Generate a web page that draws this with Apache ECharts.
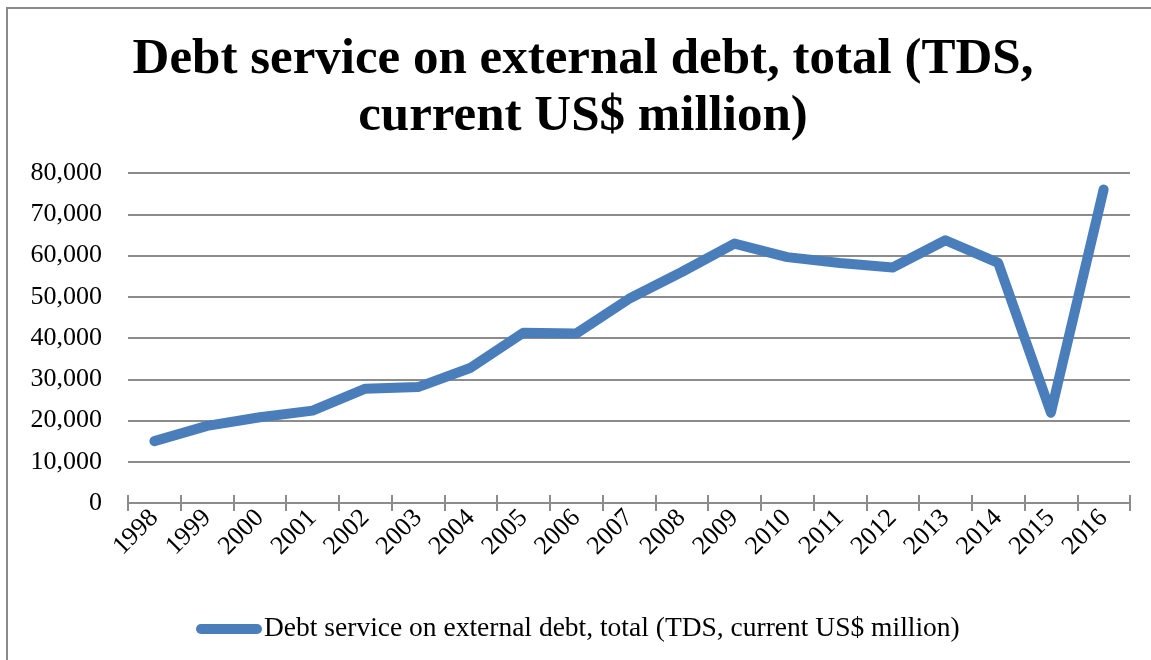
<!DOCTYPE html>
<html>
<head>
<meta charset="utf-8">
<script src="https://cdn.jsdelivr.net/npm/echarts@6/dist/echarts.min.js"></script>
<style>
  html, body { margin: 0; padding: 0; background: #fff; }
  #wrap { position: relative; width: 1151px; height: 660px; overflow: hidden; }
  #frame { position: absolute; left: 6px; top: 7px; width: 1200px; height: 700px;
           border-left: 2px solid #8a8a8a; border-top: 2px solid #8a8a8a; box-sizing: border-box; }
  #chart { position: absolute; left: 0; top: 0; width: 1151px; height: 660px; }
</style>
</head>
<body>
<div id="wrap">
  <div id="frame"></div>
  <div id="chart"></div>
</div>
<script>
// Total debt service on external debt, current US$ million
const years = ['1998','1999','2000','2001','2002','2003','2004','2005','2006','2007',
               '2008','2009','2010','2011','2012','2013','2014','2015','2016'];
const tds = [15000, 18700, 20800, 22400, 27700, 28100, 32800, 41300, 41100, 49500,
             56000, 62900, 59600, 58200, 57100, 63700, 58200, 21900, 76000];
const seriesName = 'Debt service on external debt, total (TDS, current US$ million)';
const titleText = 'Debt service on external debt, total (TDS,\ncurrent US$ million)';

const serif = '"Liberation Serif", "DejaVu Serif", serif';
const gridGrey = '#8c8c8c';
const lineBlue = '#4a7ebb';

const chart = echarts.init(document.getElementById('chart'), null, { renderer: 'canvas' });

chart.setOption({
  backgroundColor: 'transparent',
  animation: false,
  title: {
    text: titleText,
    left: 583,
    top: 31,
    padding: 0,
    textAlign: 'center',
    textStyle: {
      fontFamily: serif,
      fontWeight: 'bold',
      fontSize: 51,
      lineHeight: 57,
      color: '#000'
    }
  },
  legend: {
    data: [seriesName],
    left: 196,
    top: 615,
    padding: 0,
    icon: 'path://M5,0 L61,0 A5,5 0 0 1 61,10 L5,10 A5,5 0 0 1 5,0 Z',
    itemWidth: 66,
    itemHeight: 10,
    itemGap: 0,
    itemStyle: { color: lineBlue },
    textStyle: { fontFamily: serif, fontSize: 27.5, color: '#000', padding: [0, 0, 0, -3] }
  },
  grid: { left: 128, right: 21, top: 173, bottom: 157, containLabel: false },
  xAxis: [
    {
      type: 'category',
      data: years,
      boundaryGap: true,
      axisLine: { show: true, lineStyle: { color: gridGrey, width: 2 } },
      axisTick: { show: true, inside: false, length: 8, lineStyle: { color: gridGrey, width: 2 } },
      axisLabel: {
        rotate: 45,
        margin: 11,
        fontFamily: serif,
        fontSize: 26,
        color: '#000',
        interval: 0
      }
    },
    {
      type: 'category',
      data: years,
      position: 'bottom',
      boundaryGap: true,
      axisLine: { show: false },
      axisTick: { show: true, inside: true, length: 8, lineStyle: { color: gridGrey, width: 2 } },
      axisLabel: { show: false },
      splitLine: { show: false }
    }
  ],
  yAxis: {
    type: 'value',
    min: 0,
    max: 80000,
    interval: 10000,
    axisLine: { show: false },
    axisTick: { show: false },
    splitLine: { show: true, lineStyle: { color: gridGrey, width: 2 } },
    axisLabel: {
      margin: 26,
      fontFamily: serif,
      fontSize: 26,
      color: '#000',
      formatter: v => v.toLocaleString('en-US')
    }
  },
  series: [
    {
      name: seriesName,
      type: 'line',
      data: tds,
      xAxisIndex: 0,
      symbol: 'none',
      lineStyle: { color: lineBlue, width: 10, cap: 'round', join: 'round' },
      itemStyle: { color: lineBlue }
    }
  ]
});
</script>
</body>
</html>
